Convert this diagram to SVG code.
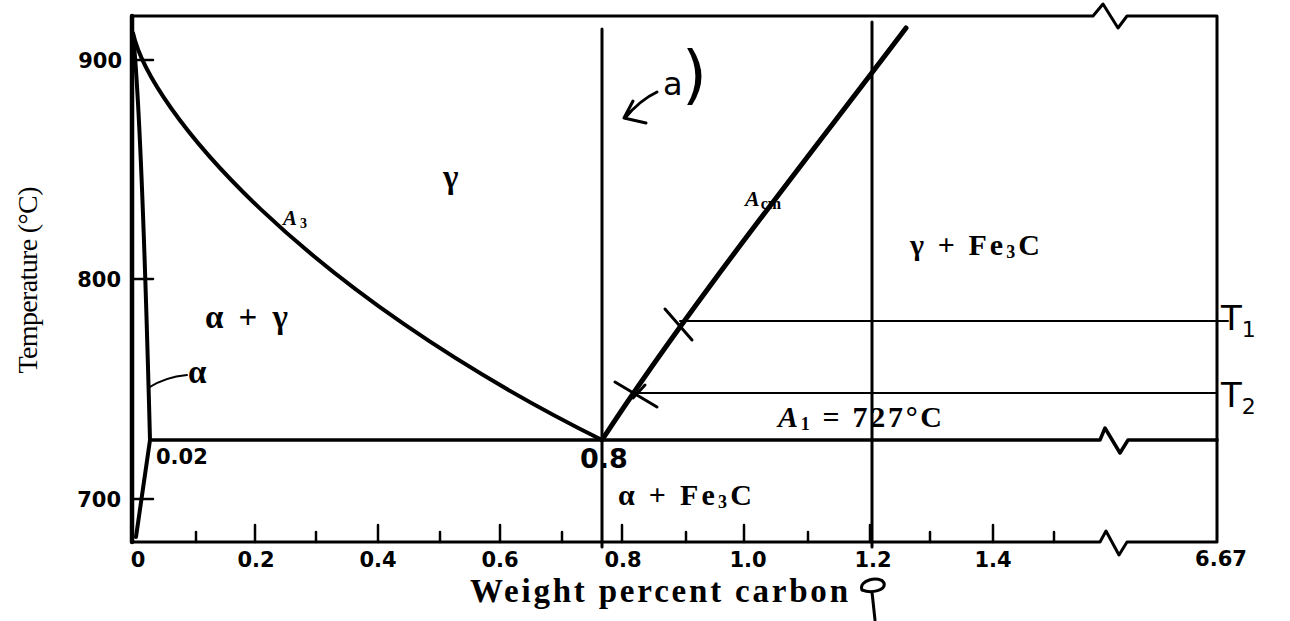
<svg xmlns="http://www.w3.org/2000/svg" width="1290" height="621" viewBox="0 0 1290 621">
<style>
.ln{fill:none;stroke:#000;stroke-linecap:round;stroke-linejoin:round}
.num{font-family:"DejaVu Sans",sans-serif;font-weight:bold;fill:#000}
.lbl{font-family:"Liberation Serif",serif;font-weight:bold;fill:#000}
.it{font-style:italic}
.hw{font-family:"DejaVu Sans",sans-serif;fill:#000}
</style>
<rect width="1290" height="621" fill="#fff"/>
<g id="frame">
<path class="ln" stroke-width="3" d="M132,16 L1093,16 L1103,4 L1118,28 L1127,16 L1217,16 L1217,542 L1127,542 L1119,555 L1106,531 L1100,542 L132,542"/>
<path class="ln" stroke-width="4.5" d="M132,16 L132,542"/>
<g class="ln" stroke-width="2.5">
<path d="M132,60 H153 M132,279 H153 M132,499 H153"/>
<path d="M196,542 v-10 M255,542 v-17 M316,542 v-10 M378,542 v-17 M440,542 v-10 M500,542 v-17 M562,542 v-10 M622,542 v-17 M686,542 v-10 M744,542 v-17 M808,542 v-10 M870,542 v-17 M930,542 v-10 M993,542 v-17 M1054,542 v-10"/>
</g>
</g>
<g id="ticklabels" class="num" font-size="21">
<text x="122" y="68" text-anchor="end">900</text>
<text x="121" y="287" text-anchor="end">800</text>
<text x="121" y="507" text-anchor="end">700</text>
<text x="138" y="567" text-anchor="middle">0</text>
<text x="256" y="567" text-anchor="middle">0.2</text>
<text x="378" y="567" text-anchor="middle">0.4</text>
<text x="500" y="567" text-anchor="middle">0.6</text>
<text x="623" y="567" text-anchor="middle">0.8</text>
<text x="748" y="567" text-anchor="middle">1.0</text>
<text x="873" y="567" text-anchor="middle">1.2</text>
<text x="993" y="567" text-anchor="middle">1.4</text>
<text x="1221" y="566" text-anchor="middle">6.67</text>
<text x="156" y="464" font-size="21">0.02</text>
</g>
<g id="axis-titles">
<text class="lbl" font-weight="normal" style="font-weight:normal" font-size="28" transform="translate(37,280) rotate(-90)" text-anchor="middle" textLength="187">Temperature (°C)</text>
<text class="lbl" x="470" y="602" font-size="33" textLength="378">Weight percent carbon</text>
</g>
<g id="phase-lines">
<path class="ln" stroke-width="4" d="M133,35 C140,100 145,250 150,440 L136,537"/>
<path class="ln" stroke-width="4" d="M133,33 C150,110 300,290 602,440"/>
<path class="ln" stroke-width="5" d="M602,440 C690,305 810,155 906,28"/>
<path class="ln" stroke-width="3.5" d="M150,440 L1100,440 L1105,428 L1120,453 L1128,440 L1217,440"/>
<path class="ln" stroke-width="3" d="M602,29 L602,547"/>
<path class="ln" stroke-width="3" d="M872,22 L872,547"/>
<path class="ln" stroke-width="2" d="M148,388 Q165,377 187,375"/>
</g>
<g id="region-labels" class="lbl" font-size="30">
<text x="443" y="188" font-size="33">γ</text>
<text x="283" y="225" font-size="21"><tspan class="it">A</tspan><tspan font-size="14" dx="3" dy="3">3</tspan></text>
<text x="745" y="206" font-size="22"><tspan class="it">A</tspan><tspan font-size="16" dx="1" dy="3">cm</tspan></text>
<text x="205" y="328" font-size="33" textLength="83">α + γ</text>
<text x="188" y="383" font-size="33">α</text>
<text x="910" y="255" textLength="130">γ + Fe<tspan font-size="18" dy="3">3</tspan><tspan dy="-3">C</tspan></text>
<text x="778" y="427" textLength="164"><tspan class="it">A</tspan><tspan font-size="18" dy="3">1</tspan><tspan dy="-3"> = 727°C</tspan></text>
<text x="618" y="505" textLength="134">α + Fe<tspan font-size="18" dy="3">3</tspan><tspan dy="-3">C</tspan></text>
</g>
<g id="annotations">
<path class="ln" stroke-width="2" d="M680,321 L1228,321"/>
<path class="ln" stroke-width="2" d="M632,393 L1217,393"/>
<path class="ln" stroke-width="3" d="M665,309 L692,340"/>
<path class="ln" stroke-width="3" d="M615,382 L657,407 M645,385 L633,398"/>
<path class="ln" stroke-width="3" d="M657,92 Q640,100 625,118 M633,101 L624,118 L646,123"/>
<text class="hw" x="663" y="95" font-size="32">a<tspan font-size="64" x="682" y="97">)</tspan></text>
<text class="hw" x="580" y="468" font-weight="bold" font-size="27">0.8</text>
<text class="hw" x="1221" y="330" font-size="34">T<tspan font-size="22" dy="7">1</tspan></text>
<text class="hw" x="1221" y="407" font-size="34">T<tspan font-size="22" dy="7">2</tspan></text>
<path class="ln" stroke-width="3" d="M862,590 C858,580 880,575 884,583 C886,590 872,594 862,590 M872,592 L875,620"/>
</g>
</svg>
